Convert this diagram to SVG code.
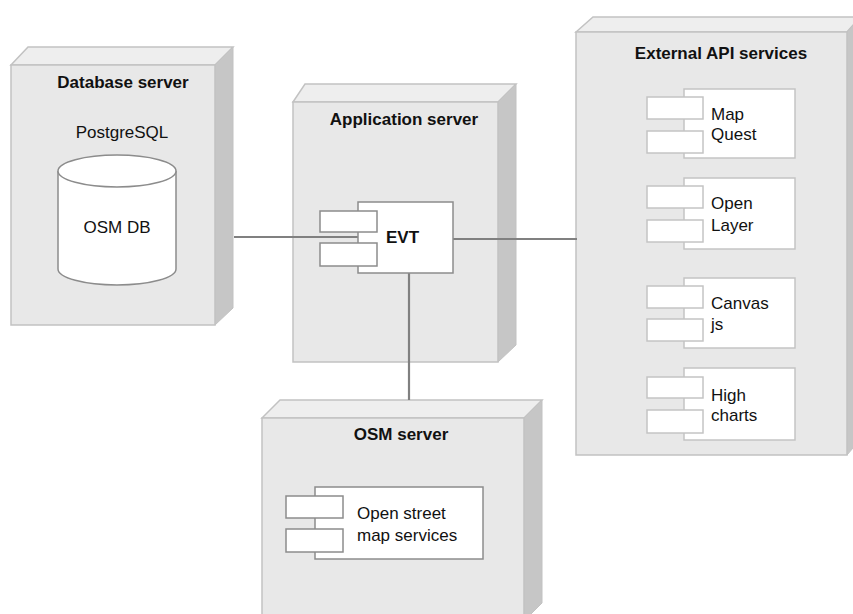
<svg xmlns="http://www.w3.org/2000/svg" width="853" height="614" viewBox="0 0 853 614">
<style>
.front{fill:#e8e8e8;stroke:#c2c2c2;stroke-width:1.5}
.top{fill:#eeeeee;stroke:#c2c2c2;stroke-width:1.5}
.side{fill:#c6c6c6;stroke:#c2c2c2;stroke-width:1}
.title{font-family:"Liberation Sans",Arial,sans-serif;font-weight:bold;font-size:17px;fill:#111;text-anchor:middle}
.lbl{font-family:"Liberation Sans",Arial,sans-serif;font-size:17px;fill:#111}
.comp{fill:#fff;stroke:#c4c4c4;stroke-width:1.5}
.compd{fill:#fff;stroke:#8c8c8c;stroke-width:1.5}
.conn{stroke:#808080;stroke-width:2.2;fill:none}
</style>
<rect width="853" height="614" fill="#fff"/>
<g id="db-server">
<polygon class="top" points="11,65 28,47 233,47 215,65"/>
<polygon class="side" points="215,65 233,47 233,308 215,325"/>
<rect class="front" x="11" y="65" width="204" height="260"/>
<text class="title" x="123" y="88">Database server</text>
<text class="lbl" x="122" y="138" text-anchor="middle">PostgreSQL</text>
<path d="M58,171 L58,269 A59,16 0 0 0 176,269 L176,171" fill="#fff" stroke="#8c8c8c" stroke-width="1.5"/>
<ellipse cx="117" cy="171" rx="59" ry="16" fill="#fff" stroke="#8c8c8c" stroke-width="1.5"/>
<text class="lbl" x="117" y="233" text-anchor="middle">OSM DB</text>
</g>
<g id="app-server">
<polygon class="top" points="293,102 305,84 516,84 498,102"/>
<polygon class="side" points="498,102 516,84 516,345 498,362"/>
<rect class="front" x="293" y="102" width="205" height="260"/>
<text class="title" x="404" y="125">Application server</text>
</g>
<g id="ext-server">
<polygon class="top" points="576,32 593,17 860,17 847,32"/>
<polygon class="side" points="847,32 860,17 860,440 847,455"/>
<rect class="front" x="576" y="32" width="271" height="423"/>
<text class="title" x="721" y="59">External API services</text>
</g>
<g id="osm-server">
<polygon class="top" points="262,418 280,400 542,400 524,418"/>
<polygon class="side" points="524,418 542,400 542,603 524,621"/>
<rect class="front" x="262" y="418" width="262" height="210"/>
<text class="title" x="401" y="440">OSM server</text>
</g>
<g id="connectors">
<line class="conn" x1="234" y1="237" x2="358" y2="237"/>
<line class="conn" x1="453" y1="239" x2="577" y2="239"/>
<line class="conn" x1="409" y1="273" x2="409" y2="400"/>
</g>
<g id="evt">
<rect class="compd" x="358" y="202" width="95" height="71"/>
<rect class="compd" x="320" y="211" width="57" height="21"/>
<rect class="compd" x="320" y="243" width="57" height="23"/>
<text class="title" x="386" y="243" style="text-anchor:start">EVT</text>
</g>
<g id="mapquest">
<rect class="comp" x="684" y="89" width="111" height="69"/>
<rect class="comp" x="647" y="97" width="56" height="22"/>
<rect class="comp" x="647" y="131" width="56" height="22"/>
<text class="lbl" x="711" y="120">Map</text>
<text class="lbl" x="711" y="140">Quest</text>
</g>
<g id="openlayer">
<rect class="comp" x="684" y="178" width="111" height="71"/>
<rect class="comp" x="647" y="186" width="56" height="22"/>
<rect class="comp" x="647" y="220" width="56" height="22"/>
<text class="lbl" x="711" y="209">Open</text>
<text class="lbl" x="711" y="231">Layer</text>
</g>
<g id="canvasjs">
<rect class="comp" x="684" y="278" width="111" height="70"/>
<rect class="comp" x="647" y="286" width="56" height="22"/>
<rect class="comp" x="647" y="319" width="56" height="22"/>
<text class="lbl" x="711" y="309">Canvas</text>
<text class="lbl" x="711" y="330">js</text>
</g>
<g id="highcharts">
<rect class="comp" x="684" y="368" width="111" height="72"/>
<rect class="comp" x="647" y="377" width="56" height="21"/>
<rect class="comp" x="647" y="410" width="56" height="23"/>
<text class="lbl" x="711" y="401">High</text>
<text class="lbl" x="711" y="421">charts</text>
</g>
<g id="osm-services">
<rect class="compd" x="315" y="487" width="168" height="72"/>
<rect class="compd" x="286" y="496" width="57" height="22"/>
<rect class="compd" x="286" y="529" width="57" height="23"/>
<text class="lbl" x="357" y="519">Open street</text>
<text class="lbl" x="357" y="541">map services</text>
</g>
</svg>
